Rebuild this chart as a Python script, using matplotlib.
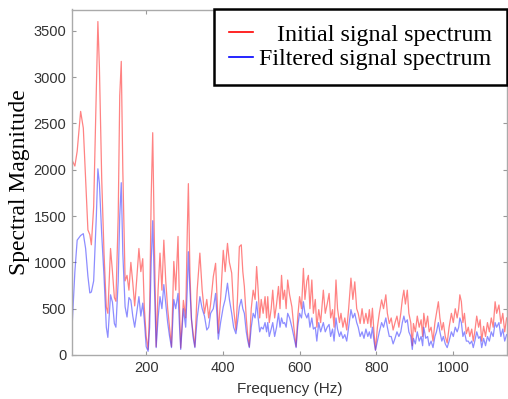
import matplotlib
matplotlib.use("Agg")
import matplotlib.pyplot as plt
from matplotlib.lines import Line2D

# frequency (Hz) of each read point, with red = initial, blue = filtered magnitude
freq = [7, 14, 20, 29, 36, 42, 48, 53, 57, 63,
        70, 74, 78, 84, 90, 96, 100, 107, 112, 117,
        121, 127, 131, 135, 139, 145, 150, 155, 160, 165,
        170, 175, 181, 186, 191, 195, 200, 205, 209, 213,
        217, 221, 226, 231, 236, 241, 246, 251, 256, 261,
        266, 272, 277, 283, 287, 290, 297, 303, 307, 310,
        314, 318, 322, 327, 333, 340, 346, 352, 358, 363,
        368, 375, 381, 385, 388, 394, 401, 406, 412, 417,
        423, 428, 434, 438, 443, 448, 452, 456, 461, 465,
        469, 474, 479, 484, 488, 492, 496, 500, 505, 510,
        514, 517, 521, 526, 530, 535, 540, 545, 549, 553,
        557, 561, 565, 569, 574, 580, 585, 591, 595, 600,
        605, 610, 614, 619, 623, 627, 632, 636, 641, 645,
        650, 655, 662, 667, 672, 677, 681, 686, 690, 695,
        699, 704, 708, 713, 718, 723, 728, 734, 739, 744,
        749, 753, 758, 763, 768, 773, 778, 782, 786, 790,
        794, 798, 803, 808, 814, 819, 825, 829, 834, 839,
        844, 849, 854, 859, 864, 868, 872, 876, 881, 885,
        890, 894, 897, 902, 907, 912, 917, 921, 924, 929,
        934, 938, 943, 948, 953, 957, 962, 966, 971, 975,
        980, 985, 990, 996, 1001, 1006, 1011, 1015, 1018, 1022,
        1026, 1030, 1035, 1040, 1044, 1049, 1053, 1057, 1062, 1067,
        1071, 1075, 1080, 1085, 1090, 1095, 1100, 1105, 1110, 1114,
        1120, 1125, 1130, 1135, 1140]

initial = [2100, 2040, 2200, 2630, 2450, 1900, 1350, 1300, 1190, 1600,
           2900, 3600, 3100, 1900, 1100, 520, 450, 1150, 900, 620,
           580, 1500, 2800, 3170, 2000, 800, 860, 700, 1000, 780,
           530, 800, 1150, 900, 1040, 520, 200, 60, 500, 1700,
           2400, 1300, 90, 700, 1100, 700, 1240, 800, 500, 300,
           90, 1010, 700, 1280, 500, 75, 590, 400, 1300, 1850,
           900, 380, 250, 90, 700, 1100, 700, 450, 600, 400,
           550, 845, 990, 600, 235, 600, 1130, 900, 1205, 1000,
           885, 500, 270, 600, 1170, 1190, 900, 740, 400, 200,
           90, 500, 700, 600, 955, 700, 400, 600, 450, 630,
           400, 630, 350, 500, 700, 400, 550, 740, 500, 860,
           600, 700, 500, 810, 650, 520, 300, 90, 400, 630,
           500, 935, 600, 800, 860, 500, 810, 450, 600, 300,
           490, 350, 700, 450, 550, 665, 400, 490, 300, 810,
           500, 350, 450, 300, 400, 270, 500, 830, 600, 790,
           500, 450, 340, 500, 340, 450, 340, 490, 300, 505,
           250, 55, 300, 450, 595, 500, 650, 450, 340, 400,
           270, 350, 420, 300, 450, 600, 700, 550, 700, 450,
           350, 100, 340, 250, 420, 300, 380, 200, 450, 300,
           420, 250, 300, 150, 350, 450, 575, 400, 270, 350,
           200, 130, 300, 450, 350, 500, 400, 500, 650, 575,
           350, 450, 230, 300, 200, 280, 150, 250, 420, 300,
           380, 150, 310, 200, 350, 250, 400, 300, 575, 450,
           540, 340, 450, 250, 400]

filtered = [330, 900, 1240, 1290, 1310, 1150, 850, 670, 680, 800,
            1500, 2010, 1850, 1300, 850, 300, 190, 650, 570, 340,
            300, 800, 1500, 1860, 1100, 520, 410, 620, 590, 420,
            300, 450, 630, 420, 560, 380, 90, 40, 300, 1000,
            1450, 800, 80, 400, 630, 500, 760, 550, 350, 200,
            80, 600, 500, 665, 300, 60, 500, 300, 700, 1115,
            700, 400, 200, 80, 400, 630, 500, 420, 270, 300,
            450, 500, 665, 400, 170, 350, 520, 600, 775, 600,
            450, 300, 230, 350, 520, 600, 500, 450, 250, 150,
            80, 300, 450, 400, 575, 400, 250, 300, 280, 350,
            250, 350, 200, 280, 350, 200, 300, 450, 300, 400,
            340, 350, 300, 450, 400, 300, 200, 80, 300, 450,
            400, 575, 450, 400, 450, 300, 400, 280, 300, 150,
            350, 250, 350, 250, 300, 330, 200, 280, 150, 400,
            280, 200, 250, 180, 220, 150, 300, 490, 400, 450,
            350, 300, 200, 250, 180, 280, 200, 250, 180, 300,
            150, 50, 150, 250, 350, 300, 400, 300, 200, 200,
            120, 180, 250, 200, 250, 350, 420, 350, 380, 250,
            200, 60, 180, 120, 250, 150, 200, 100, 300, 180,
            200, 100, 150, 80, 200, 250, 350, 250, 150, 200,
            120, 80, 150, 250, 200, 300, 250, 300, 400, 350,
            200, 250, 150, 150, 120, 150, 80, 150, 250, 180,
            200, 80, 180, 100, 200, 150, 250, 200, 350, 300,
            350, 200, 280, 150, 220]

fig = plt.figure(figsize=(5.08, 3.99), dpi=100)
ax = fig.add_axes([72/508, 44/399, 435/508, 345.5/399])

ax.plot(freq, initial, color='#ff3030', lw=0.9, alpha=0.6)
ax.plot(freq, filtered, color='#3030ff', lw=0.9, alpha=0.55)

ax.set_xlim(6.5, 1141)
ax.set_ylim(0, 3730)
ax.set_xticks([200, 400, 600, 800, 1000])
ax.set_yticks([0, 500, 1000, 1500, 2000, 2500, 3000, 3500])

ax.tick_params(direction='in', top=True, right=True, length=3, width=0.8,
               color='#999999', labelcolor='#333333', labelsize=10.5, pad=4)
for lab in ax.get_xticklabels() + ax.get_yticklabels():
    lab.set_family('Liberation Sans')
for s in ax.spines.values():
    s.set_color('#aaaaaa')
    s.set_linewidth(1)

ax.set_xlabel('Frequency (Hz)', family='Liberation Sans', fontsize=11,
              color='#333333', labelpad=5)
fig.text(20/508, 1 - 182/399, 'Spectral Magnitude', family='Liberation Serif',
         fontsize=17, rotation=90, ha='center', va='center')

handles = [Line2D([], [], color='red', lw=1.2), Line2D([], [], color='blue', lw=1.2)]
leg = ax.legend(handles, ['   Initial signal spectrum', 'Filtered signal spectrum'],
                loc='upper right', bbox_to_anchor=(1, 1.002), borderaxespad=0,
                prop={'family': 'Liberation Serif', 'size': 17.3},
                handlelength=1.0, handletextpad=0.25, labelspacing=0.11,
                borderpad=0.62, fancybox=False, framealpha=1)
leg.get_frame().set_edgecolor('black')
leg.get_frame().set_linewidth(1.8)

fig.savefig('out.png', dpi=100)
